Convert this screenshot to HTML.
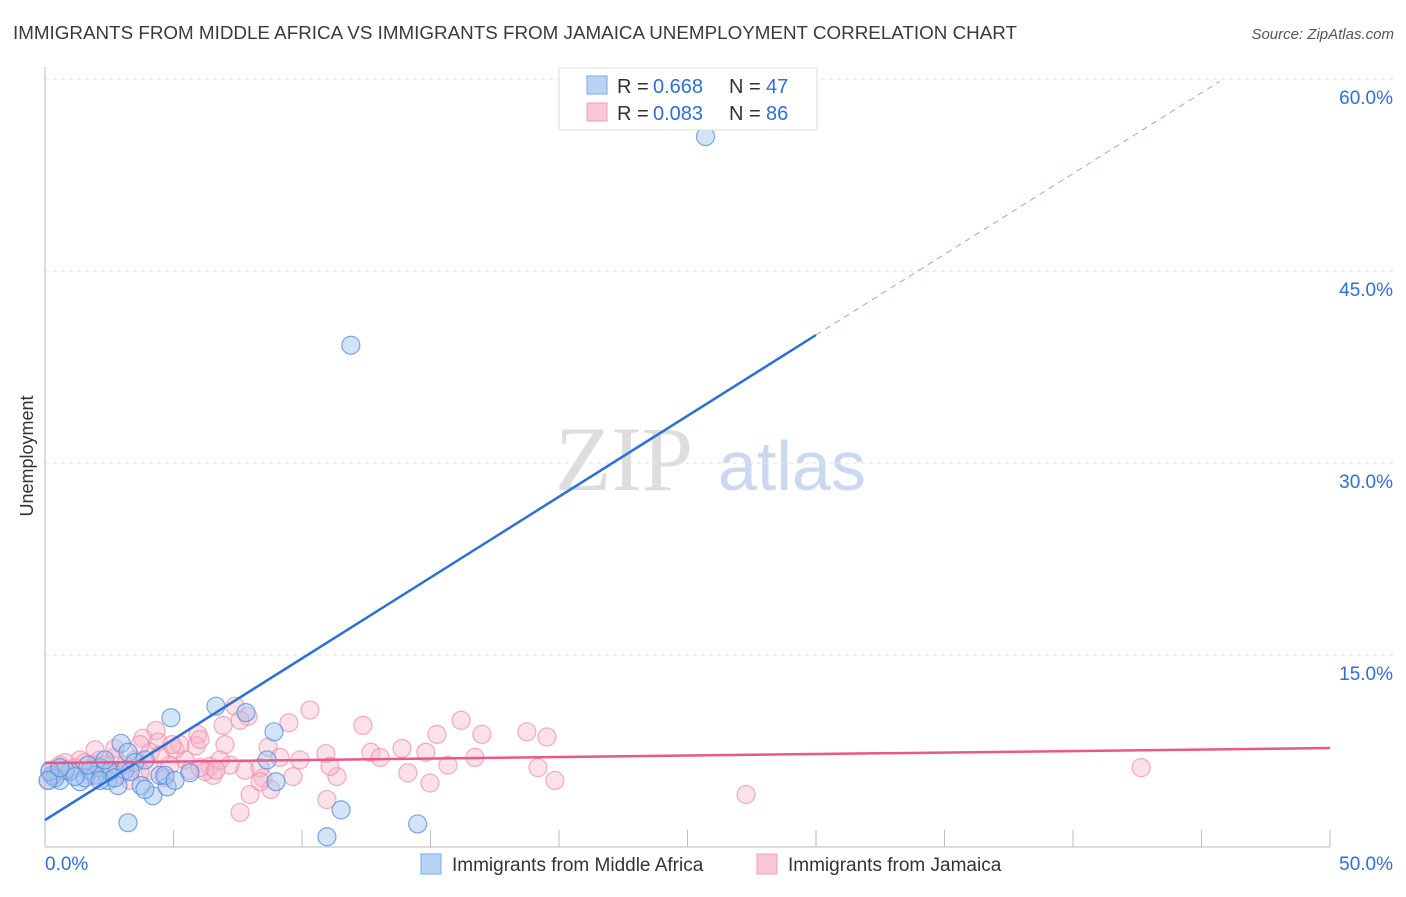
<!DOCTYPE html>
<html><head><meta charset="utf-8"><style>
body{margin:0;background:#fff;font-family:"Liberation Sans",sans-serif;}
</style></head><body>
<svg id="c" width="1406" height="892" xmlns="http://www.w3.org/2000/svg">
<text x="13" y="39" font-size="18" fill="#3a3a3a" textLength="1004" lengthAdjust="spacingAndGlyphs">IMMIGRANTS FROM MIDDLE AFRICA VS IMMIGRANTS FROM JAMAICA UNEMPLOYMENT CORRELATION CHART</text>
<text x="1394" y="39" font-size="15" fill="#555" text-anchor="end" font-style="italic">Source: ZipAtlas.com</text>
<text x="555" y="490" font-size="92" fill="#ddd" font-family="Liberation Serif">ZIP</text>
<text x="718" y="490" font-size="70" fill="#c9daf0">atlas</text>
<text transform="translate(33,456) rotate(-90)" font-size="18" fill="#333" text-anchor="middle">Unemployment</text>
<g id="grid"></g><g id="marks"></g>
<g>
<rect x="559" y="68" width="258" height="62" fill="#fff" stroke="#ddd"/>
<rect x="587" y="76" width="20" height="18" fill="#b8d3f5" stroke="#7aa8e8"/>
<rect x="587" y="103" width="20" height="18" fill="#fbc6d6" stroke="#f0a0b8"/>
<text x="617" y="93" font-size="20" fill="#333">R =</text>
<text x="653" y="93" font-size="20" fill="#2d6fd6">0.668</text>
<text x="729" y="93" font-size="20" fill="#333">N =</text>
<text x="766" y="93" font-size="20" fill="#2d6fd6">47</text>
<text x="617" y="120" font-size="20" fill="#333">R =</text>
<text x="653" y="120" font-size="20" fill="#2d6fd6">0.083</text>
<text x="729" y="120" font-size="20" fill="#333">N =</text>
<text x="766" y="120" font-size="20" fill="#2d6fd6">86</text>
</g>
<g>
<rect x="421" y="854" width="20" height="20" fill="#b8d3f5" stroke="#7aa8e8"/>
<text x="452" y="871" font-size="19" fill="#333">Immigrants from Middle Africa</text>
<rect x="757" y="854" width="20" height="20" fill="#fbc6d6" stroke="#f0a0b8"/>
<text x="788" y="871" font-size="19" fill="#333">Immigrants from Jamaica</text>
</g>
</svg>
<script>
const blueX=[25.7,11.9,4.9,6.65,7.82,8.91,8.64,8.99,2.96,3.23,4.2,3.74,4.75,4.47,5.64,3.23,10.97,11.52,14.5,2.45,2.84,1.36,0.58,0.27,0.97,1.75,2.14,2.53,3.11,3.5,3.89,1.95,1.56,0.78,1.17,0.39,2.14,2.72,4.67,0.19,1.67,2.33,3.31,0.58,3.89,5.06,0.12];
const blueY=[55.5,39.2,10.1,11.0,10.5,9.0,6.8,5.1,8.1,7.4,4.0,4.8,4.7,5.6,5.8,1.9,0.8,2.9,1.8,5.2,4.8,5.1,5.2,5.6,5.9,6.0,6.2,5.9,6.0,6.6,6.8,5.6,5.4,6.0,5.5,5.4,5.2,5.4,5.6,5.9,6.4,6.8,5.9,6.2,4.5,5.2,5.2];
const pinkX=[7.39,7.9,10.31,9.49,12.37,16.19,15.25,17.0,18.75,19.53,4.32,5.95,6.93,3.81,4.4,5.88,7.0,8.68,10.93,12.68,13.89,14.82,16.73,9.14,7.78,5.06,5.45,6.42,7.2,6.54,6.23,8.48,9.65,11.36,14.12,15.68,19.18,19.84,42.65,27.28,7.59,10.97,7.98,8.79,14.98,1.95,2.72,3.5,4.09,4.86,1.36,0.58,0.97,0.19,1.75,2.53,3.11,4.67,5.64,6.03,3.7,2.14,1.17,0.39,0.78,1.56,2.33,2.92,3.31,4.09,5.25,6.81,4.47,8.37,9.92,2.72,4.94,0.12,3.7,1.95,7.59,13.04,6.03,8.37,11.09,6.65];
const pinkY=[11.0,10.2,10.7,9.7,9.5,9.9,8.8,8.8,9.0,8.6,9.1,8.8,9.5,8.5,8.2,7.9,8.0,7.8,7.3,7.4,7.7,7.4,7.0,7.0,6.0,7.6,6.8,6.3,6.4,5.6,5.9,5.4,5.5,5.5,5.8,6.4,6.2,5.2,6.2,4.1,2.7,3.7,4.1,4.5,5.0,7.6,7.0,6.8,6.0,6.4,6.8,6.4,6.0,6.0,5.6,6.0,6.4,5.4,6.0,6.2,5.9,6.8,6.2,5.6,6.6,6.6,6.4,5.6,5.2,7.4,8.0,6.8,7.2,6.2,6.8,7.7,8.0,5.2,8.0,6.4,9.9,7.0,8.4,5.1,6.3,6.0];
const yTicks=[15,30,45,60];
const yTickLabels=["15.0%","30.0%","45.0%","60.0%"];
const blueTrend=[[0,2.1],[30,40]];
const blueTrendDash=[[30,40],[45.7,59.8]];
const pinkTrend=[[0,6.56],[50,7.73]];
const NS="http://www.w3.org/2000/svg";
const X=v=>45+v*25.7, Y=v=>847-v*12.8;
function mk(t,a,p){const e=document.createElementNS(NS,t);for(const k in a)e.setAttribute(k,a[k]);p.appendChild(e);return e;}
const grid=document.getElementById('grid'), marks=document.getElementById('marks');
let ax=mk('line',{x1:45,y1:67,x2:45,y2:847,stroke:'#bbb'},grid);

let bx=mk('line',{x1:45,y1:847,x2:1330,y2:847,stroke:'#bbb'},grid);

for(let i=1;i<=10;i++){let t=mk('line',{x1:X(i*5),y1:830,x2:X(i*5),y2:847,stroke:'#bbb'},grid);
}
yTicks.forEach((v,i)=>{let g=mk('line',{x1:45,y1:Y(v),x2:1394,y2:Y(v),stroke:'#e2e2e2','stroke-dasharray':'4,4'},grid);

let t=mk('text',{x:1393,y:Y(v)+25,'font-size':19,fill:'#2d6fd6','text-anchor':'end'},grid);t.textContent=yTickLabels[i];
});
let x0=mk('text',{x:45,y:870,'font-size':19,fill:'#2d6fd6'},grid);x0.textContent='0.0%';

let x1=mk('text',{x:1393,y:870,'font-size':19,fill:'#2d6fd6','text-anchor':'end'},grid);x1.textContent='50.0%';

pinkX.forEach((v,i)=>{let c=mk('circle',{cx:X(v),cy:Y(pinkY[i]),r:9,fill:'rgba(248,180,200,0.4)',stroke:'rgba(236,140,170,0.7)','stroke-width':1.2},marks);
});
blueX.forEach((v,i)=>{let c=mk('circle',{cx:X(v),cy:Y(blueY[i]),r:9,fill:'rgba(160,196,240,0.45)',stroke:'rgba(80,140,220,0.75)','stroke-width':1.2},marks);
});
let l1=mk('line',{x1:X(blueTrend[0][0]),y1:Y(blueTrend[0][1]),x2:X(blueTrend[1][0]),y2:Y(blueTrend[1][1]),stroke:'#2b70d8','stroke-width':2.5},marks);

let l2=mk('line',{x1:X(blueTrendDash[0][0]),y1:Y(blueTrendDash[0][1]),x2:X(blueTrendDash[1][0]),y2:Y(blueTrendDash[1][1]),stroke:'#8ab0e0','stroke-width':1,'stroke-dasharray':'6,5'},marks);

let l3=mk('line',{x1:X(pinkTrend[0][0]),y1:Y(pinkTrend[0][1]),x2:X(pinkTrend[1][0]),y2:Y(pinkTrend[1][1]),stroke:'#e8588a','stroke-width':2.5},marks);

</script>
</body></html>
